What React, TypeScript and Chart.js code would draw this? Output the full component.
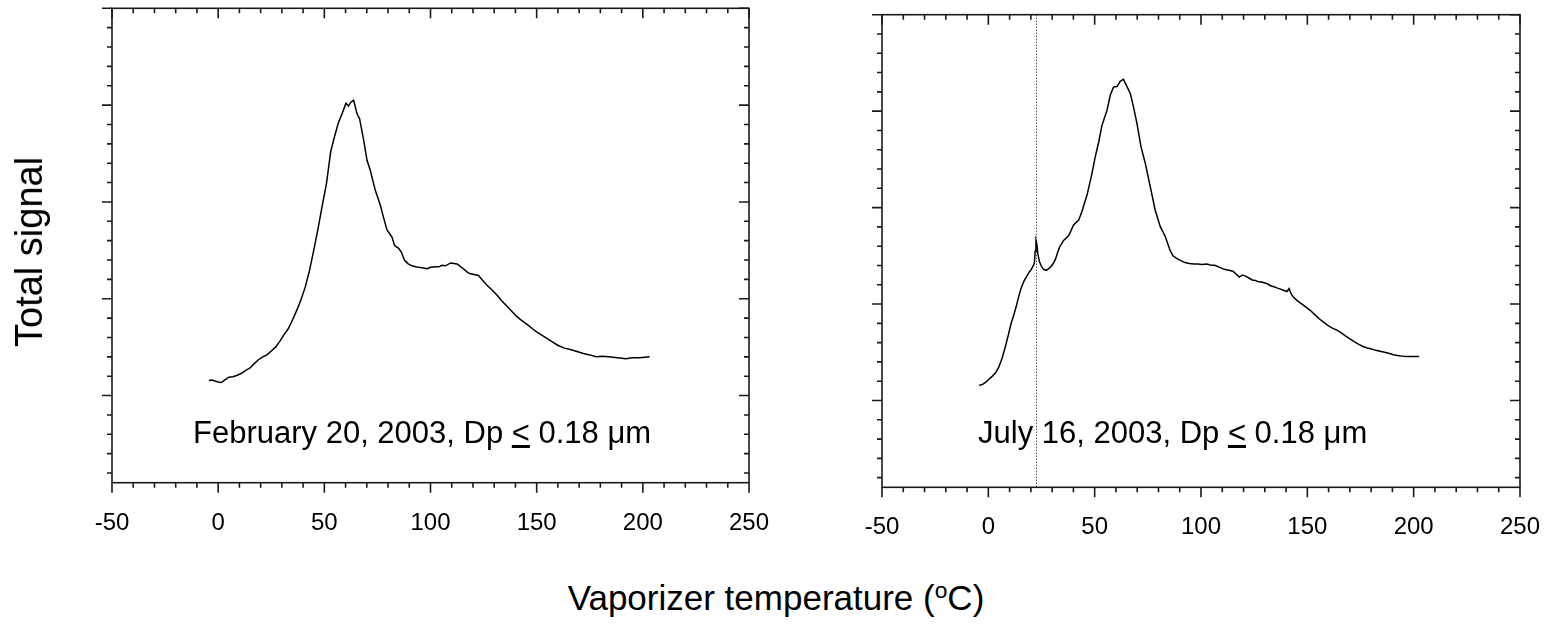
import React, { useEffect, useRef } from "react";
import { Chart, registerables } from "chart.js";

Chart.register(...registerables);

// ---- Data ----
const xTickLabels = [-50, 0, 50, 100, 150, 200, 250];

const febTemp = [
  -4.4, -3, -1.5, 0, 1.5, 3, 5, 7, 9, 11, 13, 15, 17, 19, 21, 23, 25, 27, 29, 31,
  33, 35, 37, 39, 41, 43, 45, 47, 49, 51, 53, 54.5, 56.5, 58.5, 60.2, 61.4, 62.5, 63.8, 65.4, 66.6,
  68.5, 70.1, 71.6, 74, 76.3, 78, 79.5, 81.8, 83.1, 85, 86.3, 87.7, 89.5, 91.3, 93, 94.3, 96, 98.4, 100, 102.4,
  104, 105.4, 107, 109.5, 111, 112.5, 114, 115.5, 117, 118.5, 120.5, 122.6, 124.5, 126.6, 129, 131.6, 133.5, 135.7, 138.7, 140.5,
  142.7, 145.8, 148, 149.8, 152, 154.8, 157, 159.9, 163, 165.9, 169, 172, 175, 178, 181, 184, 188, 192.1, 195, 198.2,
  201, 203.2,
];
const febSignal = [
  1.155, 1.16, 1.15, 1.14, 1.135, 1.16, 1.19, 1.195, 1.21, 1.23, 1.26, 1.285, 1.33, 1.37, 1.4, 1.42, 1.46, 1.5, 1.56, 1.63,
  1.69, 1.78, 1.88, 1.99, 2.12, 2.29, 2.5, 2.72, 2.96, 3.19, 3.52, 3.65, 3.81, 3.92, 4.02, 3.99, 4.03, 4.05, 3.91, 3.86,
  3.64, 3.43, 3.33, 3.12, 2.97, 2.83, 2.71, 2.64, 2.55, 2.52, 2.48, 2.4, 2.36, 2.34, 2.33, 2.325, 2.32, 2.31, 2.325, 2.33,
  2.33, 2.345, 2.34, 2.37, 2.365, 2.36, 2.335, 2.31, 2.28, 2.26, 2.25, 2.24, 2.19, 2.14, 2.09, 2.03, 1.98, 1.93, 1.86, 1.82,
  1.78, 1.73, 1.69, 1.66, 1.63, 1.59, 1.56, 1.52, 1.49, 1.476, 1.455, 1.435, 1.42, 1.4, 1.405, 1.4, 1.39, 1.38, 1.39, 1.39,
  1.395, 1.4,
];

const julTemp = [
  -4.3, -2.5, -1.2, 0.3, 1.8, 3.5, 4.9, 6.5, 7.9, 9.3, 10.6, 12, 13, 14.3, 15.5, 16.8, 18.1, 19.2, 20.2, 21.2,
  21.7, 22.0, 22.4, 22.8, 23.3, 24.0, 25.0, 26.0, 27.3, 28.5, 29.5, 30.5, 31.5, 32.5, 33.5, 35.4, 37.8, 40.1, 42.5, 44,
  46.4, 48.7, 50.3, 51.9, 53.4, 55.8, 57.4, 58.9, 60.5, 62, 63.6, 64.4, 66.8, 68.3, 69.9, 71.8, 73.8, 76.2, 78.5, 80.9,
  83.2, 85.4, 86.8, 88.7, 90.5, 92.5, 94.6, 96.5, 98.6, 100.5, 102.7, 104.5, 106.8, 108.8, 110.9, 113, 115, 116.5, 118, 119.5,
  121, 122.5, 124.1, 125.5, 127.2, 129, 131.2, 132.7, 134.3, 136, 137.4, 139, 140.4, 141.4, 142.3, 143.5, 145.5, 147.5, 149.5, 151.6,
  153.5, 155.7, 157.8, 159.8, 161.8, 163.9, 166, 167.9, 170, 172, 174, 176.1, 178.2, 180.2, 182.2, 184.2, 186.3, 188.3, 190.4, 192.4,
  194.5, 196.5, 199.5, 202.6,
];
const julSignal = [
  1.155, 1.17, 1.19, 1.22, 1.25, 1.29, 1.345, 1.44, 1.55, 1.67, 1.79, 1.89, 1.966, 2.08, 2.17, 2.24, 2.29, 2.33, 2.36, 2.4,
  2.43, 2.55, 2.655, 2.62, 2.52, 2.44, 2.39, 2.36, 2.35, 2.37, 2.39, 2.42, 2.46, 2.53, 2.59, 2.66, 2.71, 2.82, 2.87, 2.96,
  3.13, 3.35, 3.53, 3.68, 3.85, 4.01, 4.17, 4.25, 4.255, 4.31, 4.33, 4.29, 4.18, 4.04, 3.87, 3.63, 3.46, 3.21, 2.97, 2.8,
  2.7, 2.56, 2.5, 2.47, 2.45, 2.43, 2.42, 2.415, 2.414, 2.41, 2.414, 2.405, 2.4, 2.38, 2.36, 2.35, 2.34, 2.31, 2.28, 2.3,
  2.29, 2.27, 2.25, 2.245, 2.23, 2.225, 2.21, 2.19, 2.18, 2.165, 2.155, 2.14, 2.13, 2.16, 2.11, 2.07, 2.03, 2.0, 1.965, 1.93,
  1.89, 1.845, 1.81, 1.776, 1.75, 1.73, 1.7, 1.67, 1.64, 1.61, 1.585, 1.56, 1.545, 1.534, 1.52, 1.51, 1.5, 1.49, 1.475, 1.466,
  1.46, 1.455, 1.455, 1.455,
];

const julMarkerTemp = 22.3;

const X_MIN = -50;
const X_MAX = 250;
const Y_MIN = 0.1;
const Y_MAX = 5;

const FONT = 'Arial, "Liberation Sans", Helvetica, sans-serif';

const framePlugin = {
  id: "frameTicks",
  afterDatasetsDraw(chart: any, _args: any, opts: any) {
    const { ctx, chartArea: a, scales } = chart;
    const xs = scales.x;
    const ys = scales.y;
    ctx.save();
    if (opts && opts.marker != null) {
      const px = Math.round(xs.getPixelForValue(opts.marker)) + 0.5;
      ctx.setLineDash([1, 2]);
      ctx.lineWidth = 1;
      ctx.strokeStyle = "#000";
      ctx.beginPath();
      ctx.moveTo(px, a.top);
      ctx.lineTo(px, a.bottom);
      ctx.stroke();
      ctx.setLineDash([]);
    }
    ctx.strokeStyle = "#1a1a1a";
    ctx.lineWidth = 1.6;
    ctx.strokeRect(a.left, a.top, a.right - a.left, a.bottom - a.top);
    ctx.beginPath();
    for (let t = X_MIN; t <= X_MAX; t += 10) {
      const major = t % 50 === 0;
      const len = major ? 10 : 5;
      const px = xs.getPixelForValue(t);
      ctx.moveTo(px, a.bottom);
      ctx.lineTo(px, a.bottom + len);
      ctx.moveTo(px, a.top);
      ctx.lineTo(px, a.top + len);
    }
    for (let i = Math.ceil(Y_MIN * 5); i <= Math.round(Y_MAX * 5); i++) {
      const v = i / 5;
      const major = i % 5 === 0;
      const len = major ? 10 : 5;
      const py = ys.getPixelForValue(v);
      ctx.moveTo(a.left - len, py);
      ctx.lineTo(a.left, py);
      ctx.moveTo(a.right - len, py);
      ctx.lineTo(a.right, py);
    }
    ctx.stroke();
    ctx.restore();
  },
};

function makeConfig(temps: number[], sig: number[], pad: any, axisH: number, marker: number | null) {
  return {
    type: "line" as const,
    data: {
      datasets: [
        {
          data: temps.map((t, i) => ({ x: t, y: sig[i] })),
          borderColor: "#000",
          borderWidth: 1.5,
          pointRadius: 0,
          fill: false,
          tension: 0,
        },
      ],
    },
    options: {
      animation: false,
      responsive: false,
      events: [],
      layout: { padding: pad },
      plugins: {
        legend: { display: false },
        tooltip: { enabled: false },
        frameTicks: { marker },
      },
      scales: {
        x: {
          type: "linear",
          min: X_MIN,
          max: X_MAX,
          grid: { display: false },
          border: { display: false },
          afterBuildTicks: (s: any) => {
            s.ticks = xTickLabels.map((v) => ({ value: v }));
          },
          afterFit: (s: any) => {
            s.height = axisH;
            s.paddingLeft = 0;
            s.paddingRight = 0;
          },
          ticks: {
            color: "#000",
            padding: 18,
            maxRotation: 0,
            autoSkip: false,
            font: { family: FONT, size: 24 },
            callback: (v: any) => String(v),
          },
        },
        y: {
          type: "linear",
          display: false,
          min: Y_MIN,
          max: Y_MAX,
        },
      },
    },
    plugins: [framePlugin],
  };
}

function Panel(props: { left: number; width: number; height: number; cfg: any }) {
  const ref = useRef<HTMLCanvasElement | null>(null);
  useEffect(() => {
    if (!ref.current) return;
    const chart = new Chart(ref.current, props.cfg);
    return () => chart.destroy();
  }, []);
  return (
    <canvas
      ref={ref}
      width={props.width}
      height={props.height}
      style={{ position: "absolute", left: props.left, top: 0, width: props.width, height: props.height }}
    />
  );
}

const textBase: React.CSSProperties = {
  position: "absolute",
  whiteSpace: "nowrap",
  fontFamily: FONT,
  color: "#000",
  lineHeight: 1,
};

export default function App() {
  const leftCfg = makeConfig(febTemp, febSignal, { left: 112, top: 8.3, right: 26, bottom: 0 }, 77.3, null);
  const rightCfg = makeConfig(julTemp, julSignal, { left: 107, top: 14.7, right: 29, bottom: 0 }, 72.7, julMarkerTemp);
  return (
    <div style={{ position: "absolute", left: 0, top: 0, width: 1549, height: 624, background: "#fff", overflow: "hidden" }}>
      <Panel left={0} width={775} height={560} cfg={leftCfg} />
      <Panel left={775} width={774} height={560} cfg={rightCfg} />
      <div style={{ ...textBase, fontSize: 31, left: 193, top: 416.8 }}>
        February 20, 2003, Dp <u>&lt;</u> 0.18 μm
      </div>
      <div style={{ ...textBase, fontSize: 31, left: 978, top: 416.8 }}>
        July 16, 2003, Dp <u>&lt;</u> 0.18 μm
      </div>
      <div style={{ ...textBase, fontSize: 35, left: 776, top: 580.4, transform: "translateX(-50%)" }}>
        Vaporizer temperature (
        <span style={{ fontSize: "0.65em", position: "relative", top: "-0.55em" }}>o</span>C)
      </div>
      <div
        style={{
          ...textBase,
          fontSize: 38,
          left: 28.8,
          top: 251.5,
          transform: "translate(-50%, -50%) rotate(-90deg)",
        }}
      >
        Total signal
      </div>
    </div>
  );
}
